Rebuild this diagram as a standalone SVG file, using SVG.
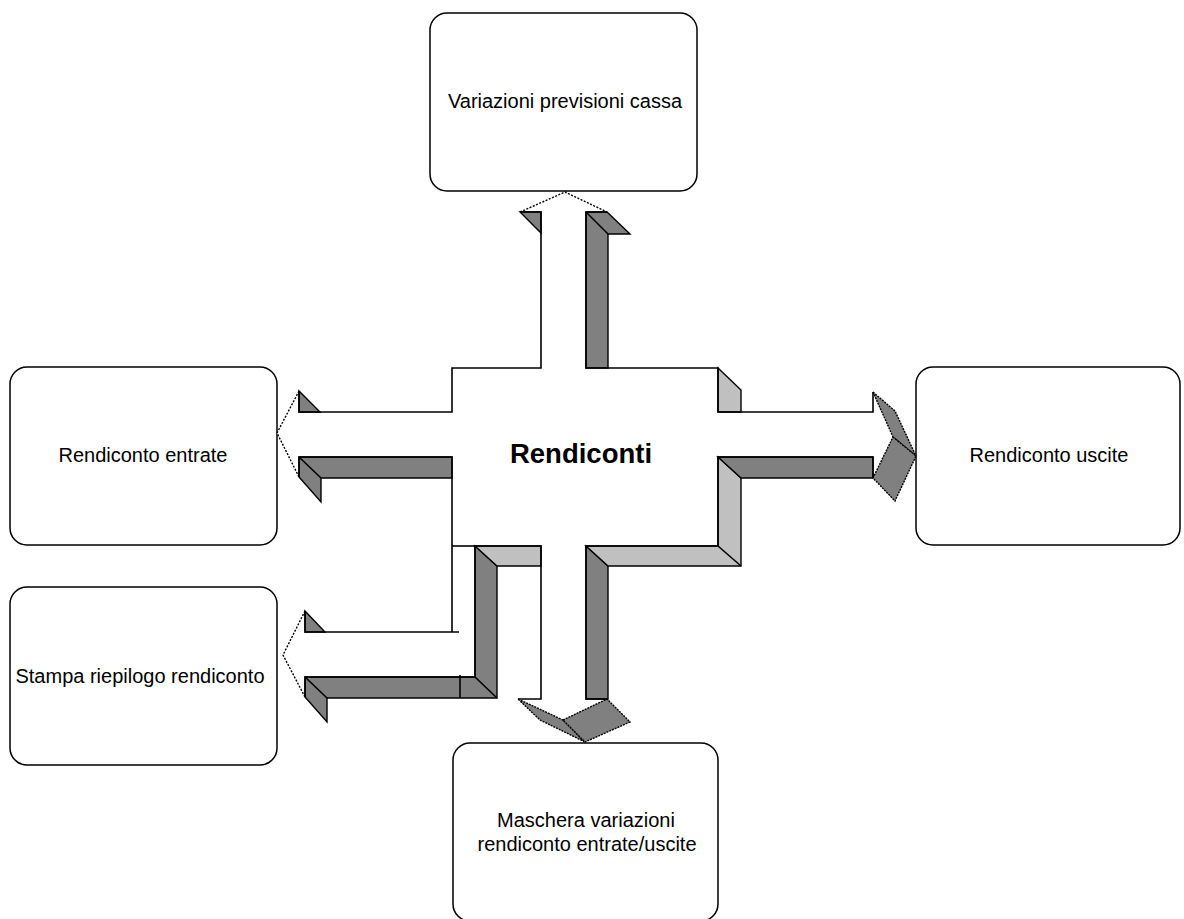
<svg xmlns="http://www.w3.org/2000/svg" width="1184" height="919" viewBox="0 0 1184 919">
<style>
.box{fill:#fff;stroke:#000;stroke-width:1.5}
.lbl{font-family:"Liberation Sans",Arial,sans-serif;font-size:20px;fill:#000;text-anchor:middle}
.title{font-family:"Liberation Sans",Arial,sans-serif;font-size:27.5px;font-weight:bold;fill:#000;text-anchor:middle}
.front{fill:#fff;stroke:none}
.edge{fill:none;stroke:#000;stroke-width:1.6;stroke-linejoin:miter}
.dash{fill:none;stroke:#000;stroke-width:1.4;stroke-dasharray:2 1.5}
.dk{fill:#808080;stroke:#000;stroke-width:1.4;stroke-linejoin:miter}
.lt{fill:#c0c0c0;stroke:#000;stroke-width:1.4;stroke-linejoin:miter}
.dkd{fill:#808080;stroke:#000;stroke-width:1.4;stroke-dasharray:2 1}
</style>
<rect width="1184" height="919" fill="#fff"/>

<g id="node-variazioni">
<rect class="box" x="430" y="13" width="267" height="178" rx="17"/>
<text class="lbl" x="565" y="108">Variazioni previsioni cassa</text>
</g>
<g id="node-entrate">
<rect class="box" x="10" y="367" width="267" height="178" rx="17"/>
<text class="lbl" x="143" y="462">Rendiconto entrate</text>
</g>
<g id="node-uscite">
<rect class="box" x="916" y="367" width="264" height="178" rx="17"/>
<text class="lbl" x="1049" y="462">Rendiconto uscite</text>
</g>
<g id="node-stampa">
<rect class="box" x="10" y="587" width="267" height="178" rx="17"/>
<text class="lbl" x="140" y="683">Stampa riepilogo rendiconto</text>
</g>
<g id="node-maschera">
<rect class="box" x="453" y="743" width="265" height="178" rx="17"/>
<text class="lbl" x="586" y="827">Maschera variazioni</text>
<text class="lbl" x="587" y="851">rendiconto entrate/uscite</text>
</g>

<g id="connectors">
<polygon class="front" points="541,368 541,212 520,212 565,192 607,212 586,212 586,368 718,368 718,412 873,412 873,392 916,456 873,478 873,457 718,457 718,546 586,546 586,699 607,699 585,742 518,699 541,699 541,546 475,546 475,677 305,677 305,697 283,655 305,611 305,632 452,632 452,457 299,457 299,477 277,433 299,391 299,412 452,412 452,368"/>
<polygon class="dk" points="520,212 541,212 541,233"/>
<polygon class="dk" points="586,212 607,212 630,234 608,234 608,368 586,368"/>
<line class="edge" x1="586" y1="212" x2="608" y2="234"/>
<polygon class="dk" points="299,391 299,412 320,412"/>
<polygon class="dk" points="299,457 452,457 452,478 321,478 321,502 299,477"/>
<line class="edge" x1="299" y1="457" x2="321" y2="478"/>
<polygon class="dk" points="305,611 305,632 325,632"/>
<polygon class="dk" points="475,546 497,566 497,698 327,698 327,722 305,697 305,677 475,677"/>
<line class="edge" x1="475" y1="677" x2="497" y2="698"/>
<line class="edge" x1="305" y1="677" x2="327" y2="698"/>
<line class="edge" x1="460" y1="675" x2="460" y2="698"/>
<polygon class="lt" points="475,546 541,546 541,566 497,566"/>
<polygon class="dk" points="586,546 608,566 608,699 586,699"/>
<polygon class="lt" points="586,546 718,546 718,457 741,478 741,566 608,566"/>
<line class="edge" x1="718" y1="546" x2="741" y2="566"/>
<polygon class="dk" points="718,457 873,457 873,478 741,478"/>
<polygon class="lt" points="718,368 741,390 741,412 718,412"/>
<polygon class="dkd" points="873,392 895,411 916,456 893,437"/>
<polygon class="dkd" points="893,437 916,456 895,501 873,478"/>
<polygon class="dkd" points="518,699 563,720 585,742 540,720"/>
<polygon class="dkd" points="563,720 607,699 630,722 585,742"/>
<polyline class="edge" points="520,212 541,212 541,368 452,368 452,412 299,412 299,391"/>
<polyline class="edge" points="607,212 586,212 586,368 718,368 718,412 873,412 873,392"/>
<polyline class="edge" points="873,478 873,457 718,457 718,546 586,546 586,699 607,699"/>
<polyline class="edge" points="518,699 541,699 541,546 475,546 475,677 305,677 305,697"/>
<polyline class="edge" points="305,611 305,632 459,632"/>
<polyline class="edge" points="452,632 452,457 299,457 299,477"/>
<line class="edge" x1="452" y1="546" x2="475" y2="546"/>
<polyline class="dash" points="520,212 565,192 607,212"/>
<polyline class="dash" points="299,391 277,433 299,477"/>
<polyline class="dash" points="305,611 283,655 305,697"/>
</g>

<g id="node-rendiconti">
<text class="title" x="581" y="463">Rendiconti</text>
</g>
</svg>
